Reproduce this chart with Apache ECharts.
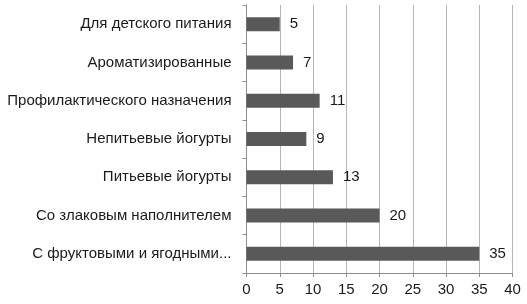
<!DOCTYPE html>
<html><head><meta charset="utf-8">
<script src="https://cdn.jsdelivr.net/npm/echarts@6/dist/echarts.min.js"></script>
<style>html,body{margin:0;padding:0;background:#fff}#c{width:527px;height:304px}</style>
</head><body><div id="c"></div>
<script>
var categories = ['Для детского питания','Ароматизированные','Профилактического назначения','Непитьевые йогурты','Питьевые йогурты','Со злаковым наполнителем','С фруктовыми и ягодными...'];
var values = [5, 7, 11, 9, 13, 20, 35];
var xMin = 0, xMax = 40, xStep = 5;
var chart = echarts.init(document.getElementById('c'), null, {renderer:'canvas'});
chart.setOption({
  animation:false,
  grid:{left:246.5, right:14.5, top:5, bottom:31, containLabel:false},
  xAxis:{type:'value', min:xMin, max:xMax, interval:xStep,
    axisLine:{show:true, lineStyle:{color:'#8c8c8c'}},
    axisTick:{show:true, length:4, lineStyle:{color:'#8c8c8c'}},
    splitLine:{show:true, lineStyle:{color:'#b5b5b5'}},
    axisLabel:{color:'#1a1a1a', fontSize:15, fontFamily:'Liberation Sans', margin:9}},
  yAxis:{type:'category', data:categories, inverse:true,
    axisLine:{show:true, lineStyle:{color:'#8c8c8c'}},
    axisTick:{show:true, length:4, lineStyle:{color:'#8c8c8c'}},
    axisLabel:{color:'#1a1a1a', fontSize:15, fontFamily:'Liberation Sans', margin:15}},
  series:[{type:'bar', data:values, barWidth:14, itemStyle:{color:'#595959'},
    label:{show:true, position:'right', distance:10, color:'#1a1a1a', fontSize:15, fontFamily:'Liberation Sans'}}]
});
</script></body></html>
